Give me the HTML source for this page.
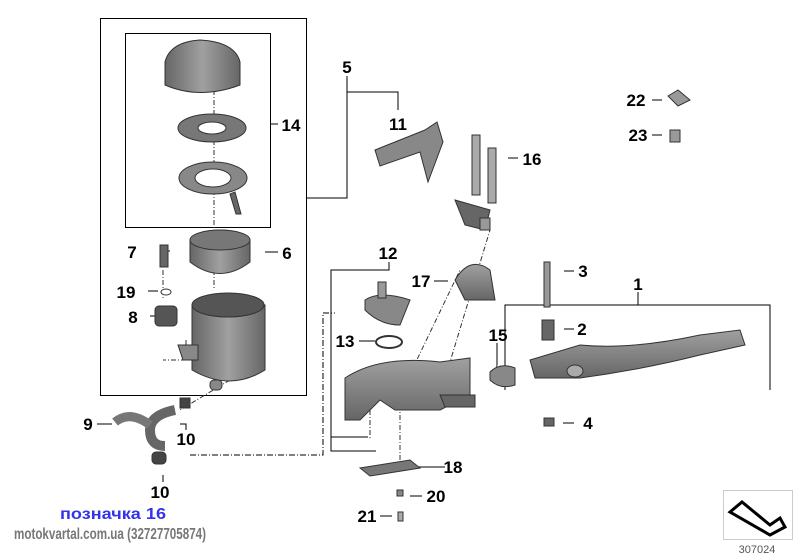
<!DOCTYPE html><html><head><style>body{margin:0;background:#fff}svg{display:block}</style></head><body>
<svg width="800" height="560" viewBox="0 0 800 560" xmlns="http://www.w3.org/2000/svg" font-family="Liberation Sans, sans-serif">
<defs>
<linearGradient id="g" x1="0" x2="1"><stop offset="0" stop-color="#666"/><stop offset=".5" stop-color="#a0a0a0"/><stop offset="1" stop-color="#666"/></linearGradient>
<linearGradient id="gv" x1="0" y1="0" x2="0" y2="1"><stop offset="0" stop-color="#a0a0a0"/><stop offset="1" stop-color="#666"/></linearGradient>
</defs>
<g fill="none" stroke="#000" stroke-width="1">
<rect x="100.5" y="18.5" width="206" height="377"/>
<rect x="125.5" y="33.5" width="145" height="194"/>
<path d="M307 198H347V92H398V110"/><path d="M347 76V92"/>
<path d="M270 124H278"/>
<path d="M389 262V270H331V451H376M331 437H368"/>
<path d="M638 292V305H505V390M638 305H770V390"/>
<path d="M190 455H323V313H335" stroke-dasharray="6,2,1,2"/>
<path d="M160 251H170M265 252H278M148 291H158M150 316H160M97 424H112M180 424H186V430M163 475V482M359 341H375M497 343V365M434 281H448M508 158H518M652 100H662M652 135H662M564 271H574M564 329H574M563 423H574M408 467H445M410 496H422M380 516H392"/>
<path d="M214 70V290M163 270V300M186 340L186 360L163 360M497 365L495 375M400 395L460 270M440 395L490 230M230 380L180 410M370 380V440M400 395V470" stroke="#333" stroke-dasharray="5,2,1,2"/>
</g>
<g stroke="#333" stroke-width="1">
<path d="M165 62Q170 42 200 40Q235 42 240 62V85Q200 100 165 85Z" fill="url(#g)"/>
<ellipse cx="212" cy="128" rx="34" ry="14" fill="#777"/><ellipse cx="212" cy="128" rx="14" ry="6" fill="#fff"/>
<ellipse cx="213" cy="178" rx="34" ry="16" fill="#888"/><ellipse cx="213" cy="178" rx="18" ry="9" fill="#fff"/>
<path d="M235 192l6 22h-5l-6-20z" fill="#666"/>
<path d="M190 240Q220 220 250 240V262Q220 285 190 262Z" fill="url(#g)"/><ellipse cx="220" cy="240" rx="30" ry="10" fill="#777"/>
<rect x="160" y="245" width="8" height="22" fill="#666"/>
<ellipse cx="166" cy="292" rx="5" ry="3" fill="#fff"/>
<rect x="155" y="306" width="22" height="20" rx="4" fill="#555"/>
<path d="M192 305Q230 285 265 305V370Q230 392 192 370Z" fill="url(#g)"/><ellipse cx="228" cy="305" rx="36" ry="12" fill="#555"/>
<path d="M178 345h20v15h-15z" fill="#888"/>
<rect x="210" y="380" width="12" height="10" rx="4" fill="#888"/>
<path d="M175 410Q150 415 150 430Q150 446 165 446" fill="none" stroke="#666" stroke-width="10"/>
<path d="M115 422Q130 410 150 425" fill="none" stroke="#777" stroke-width="9"/>
<rect x="180" y="398" width="10" height="10" fill="#444"/>
<rect x="152" y="452" width="14" height="12" rx="4" fill="#444"/>
<path d="M375 150l50 -20 12 -8 6 20 -15 40 -8 -30 -40 14z" fill="#888"/>
<path d="M455 200l35 10 -5 20 -20 -5z" fill="#666"/>
<rect x="472" y="135" width="8" height="60" fill="#aaa"/><rect x="488" y="148" width="8" height="55" fill="#aaa"/>
<rect x="480" y="218" width="10" height="12" fill="#999"/>
<path d="M455 280Q470 255 490 270L495 300H465Z" fill="url(#gv)"/>
<path d="M365 300Q380 290 410 300L400 325Q380 325 365 310Z" fill="#888"/><rect x="378" y="282" width="8" height="16" fill="#999"/>
<ellipse cx="389" cy="342" rx="13" ry="6" fill="none" stroke="#333" stroke-width="2"/>
<path d="M345 378Q380 355 440 362L470 358 470 395 440 410H395L380 400 360 420H345Z" fill="url(#gv)"/>
<path d="M440 395h35v12h-30z" fill="#666"/>
<path d="M490 372Q500 362 515 368V385Q500 390 490 380Z" fill="#888"/>
<path d="M530 360L580 345Q630 350 700 335L740 330 745 345 700 355Q640 370 580 378L535 378Z" fill="url(#gv)"/>
<ellipse cx="575" cy="371" rx="8" ry="6" fill="#aaa"/>
<rect x="544" y="262" width="6" height="45" fill="#999"/>
<rect x="542" y="320" width="12" height="20" fill="#666"/>
<rect x="544" y="418" width="10" height="8" fill="#666"/>
<path d="M360 468l50 -8 10 8 -50 8z" fill="#777"/>
<rect x="397" y="490" width="6" height="6" fill="#888"/><rect x="398" y="512" width="5" height="9" fill="#aaa"/>
<path d="M668 96l10 -6 12 10 -12 6z" fill="#999"/><path d="M670 130h10v12h-10z" fill="#999"/>
</g>
<g font-weight="bold" font-size="17" fill="#000" text-anchor="middle">
<text x="347" y="73">5</text><text x="398" y="130">11</text><text x="291" y="131">14</text>
<text x="132" y="258">7</text><text x="287" y="259">6</text><text x="126" y="298">19</text><text x="133" y="323">8</text>
<text x="88" y="430">9</text><text x="186" y="445">10</text><text x="160" y="498">10</text>
<text x="388" y="259">12</text><text x="421" y="287">17</text><text x="345" y="347">13</text><text x="498" y="341">15</text>
<text x="532" y="165">16</text><text x="636" y="106">22</text><text x="638" y="141">23</text>
<text x="583" y="277">3</text><text x="582" y="335">2</text><text x="588" y="429">4</text><text x="638" y="290">1</text>
<text x="453" y="473">18</text><text x="436" y="502">20</text><text x="367" y="522">21</text>
</g>
<text x="60" y="519" font-size="16" font-weight="bold" fill="#3333ee" textLength="106" lengthAdjust="spacingAndGlyphs">позначка 16</text>
<text x="14" y="539" font-size="16" font-weight="bold" fill="#777" textLength="192" lengthAdjust="spacingAndGlyphs">motokvartal.com.ua (32727705874)</text>
<rect x="723.5" y="490.5" width="69" height="49" fill="none" stroke="#999" stroke-dasharray="1,1"/>
<path d="M730 512L742 502 770 525 780 518 785 527 770 535Z" fill="#fff" stroke="#000" stroke-width="3"/>
<text x="757" y="553" font-size="11" fill="#555" text-anchor="middle">307024</text>
</svg></body></html>
